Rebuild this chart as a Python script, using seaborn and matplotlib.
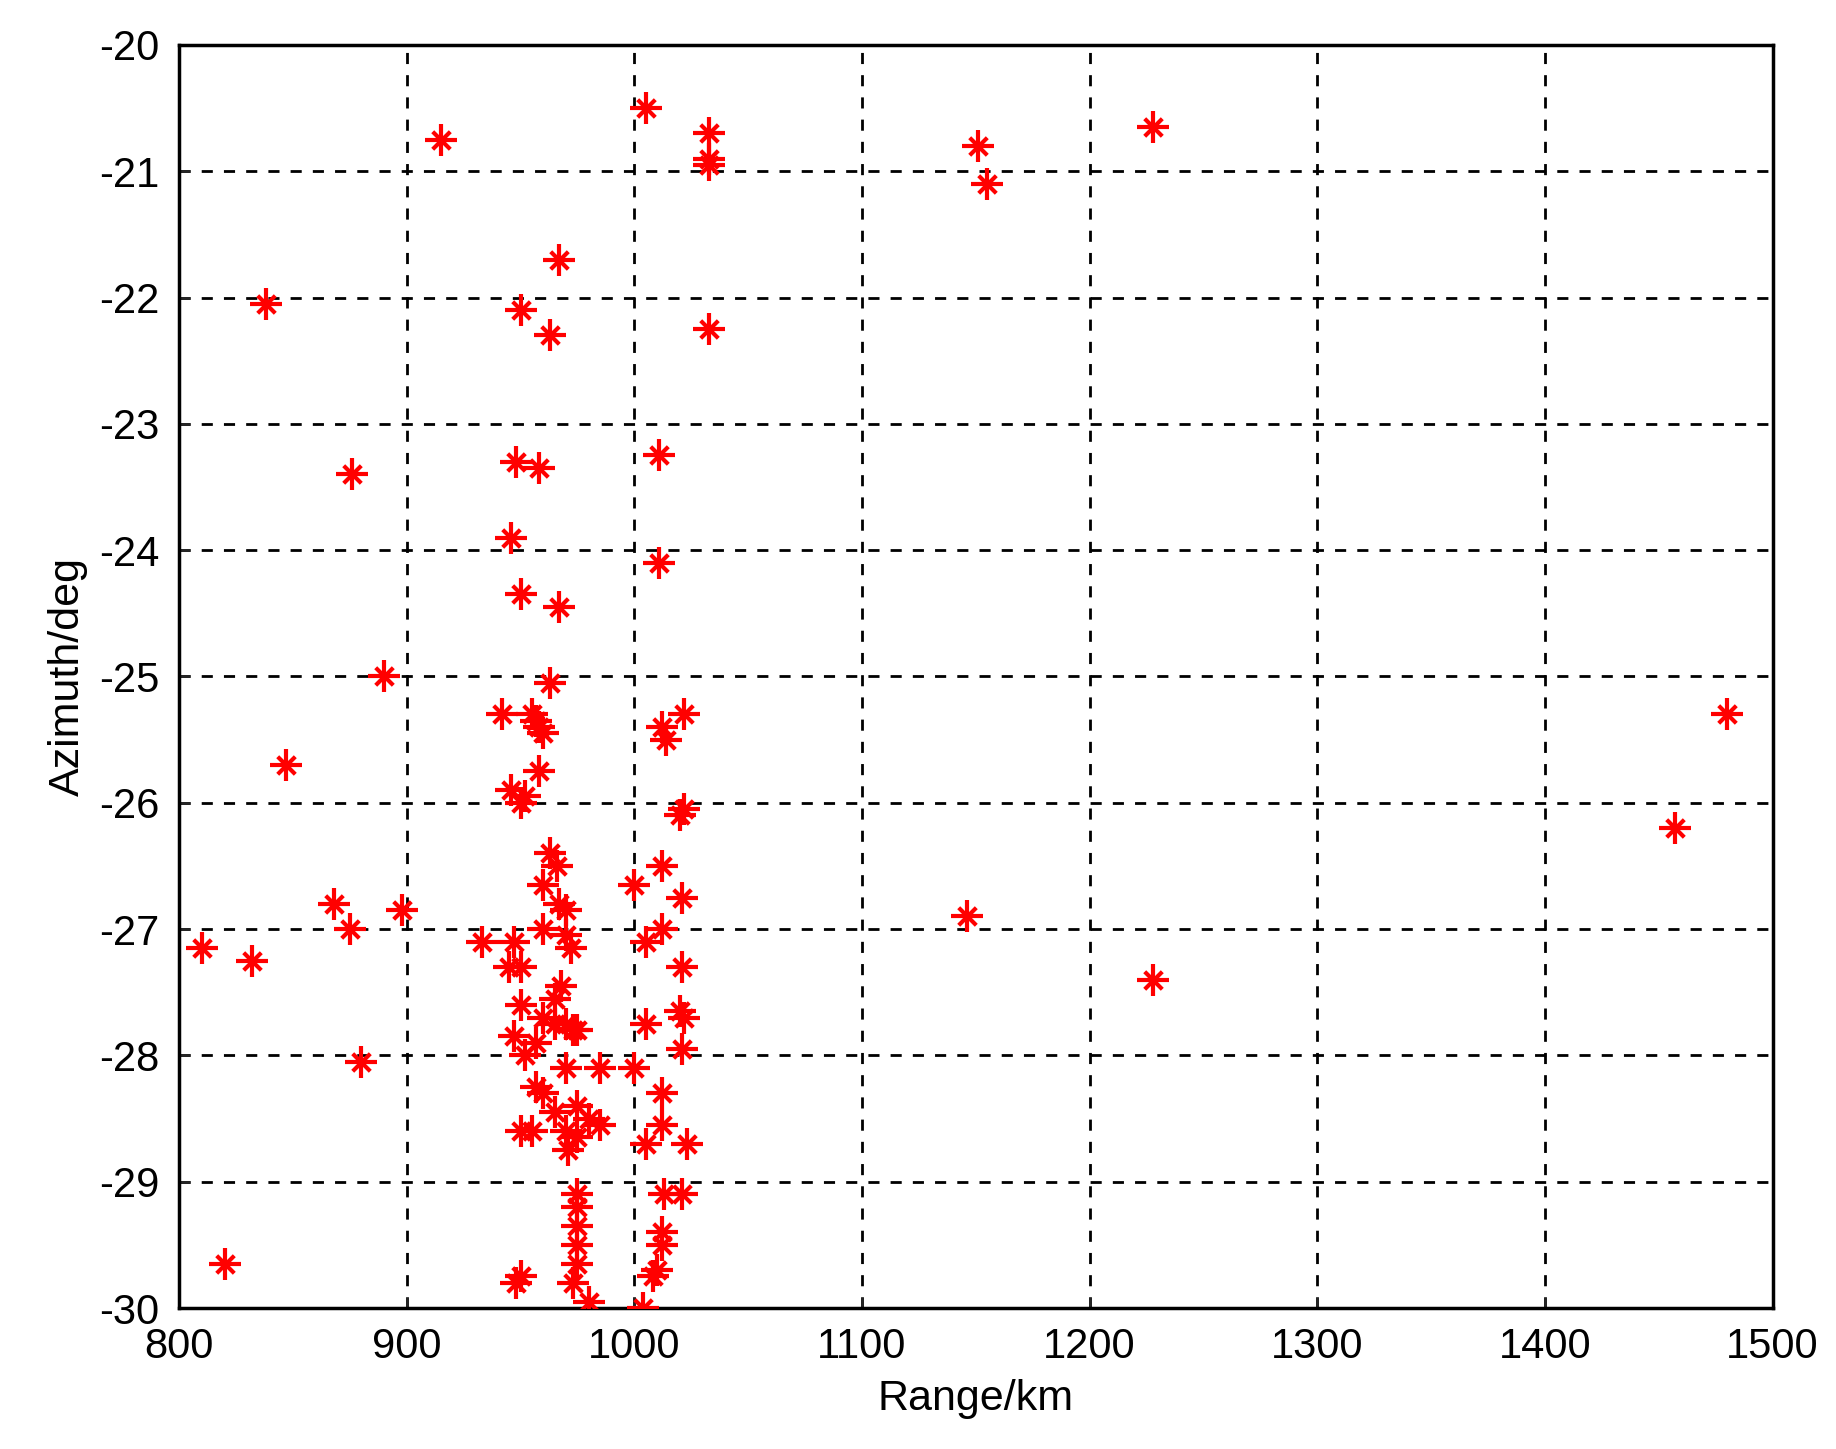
import numpy as np
import pandas as pd
import matplotlib
matplotlib.use('Agg')
import matplotlib.pyplot as plt
import seaborn as sns

# target positions
range_km = [1005, 915, 1033, 1033, 1033, 1151, 1155, 1228, 967, 838, 950, 963, 1033,
            876, 948, 958, 1011, 946, 1011, 950, 967, 890, 963, 942, 955, 958, 960, 957,
            1012, 1014, 1022, 847, 958, 946, 950, 952, 1020, 1022, 1480, 1457, 963, 966,
            960, 1012, 1000, 1021, 868, 898, 967, 970, 875, 810, 832, 933, 947, 960, 970,
            972, 1005, 1012, 1146, 1228, 945, 950, 968, 965, 950, 1021, 1020, 1022, 1005,
            960, 965, 970, 973, 975, 947, 957, 952, 970, 985, 1000, 880, 1021, 957, 960,
            1012, 965, 975, 980, 970, 975, 985, 955, 950, 971, 1012, 1005, 1023, 975, 975,
            975, 975, 975, 1013, 1021, 1012, 1012, 1010, 1008, 973, 980, 950, 948, 820, 1004]
azimuth_deg = [-20.5, -20.75, -20.7, -20.9, -20.95, -20.8, -21.1, -20.65, -21.7, -22.05,
               -22.1, -22.3, -22.25, -23.4, -23.3, -23.35, -23.25, -23.9, -24.1, -24.35,
               -24.45, -25.0, -25.05, -25.3, -25.3, -25.4, -25.45, -25.35, -25.4, -25.5,
               -25.3, -25.7, -25.75, -25.9, -26.0, -25.95, -26.1, -26.05, -25.3, -26.2,
               -26.4, -26.5, -26.65, -26.5, -26.65, -26.75, -26.8, -26.85, -26.8, -26.85,
               -27.0, -27.15, -27.25, -27.1, -27.1, -27.0, -27.05, -27.15, -27.1, -27.0,
               -26.9, -27.4, -27.3, -27.3, -27.45, -27.55, -27.6, -27.3, -27.65, -27.7,
               -27.75, -27.7, -27.75, -27.75, -27.8, -27.8, -27.85, -27.9, -28.0, -28.1,
               -28.1, -28.1, -28.05, -27.95, -28.25, -28.3, -28.3, -28.45, -28.4, -28.5,
               -28.6, -28.65, -28.55, -28.6, -28.6, -28.75, -28.55, -28.7, -28.7, -29.1,
               -29.2, -29.35, -29.5, -29.65, -29.1, -29.1, -29.4, -29.5, -29.7, -29.75,
               -29.8, -29.95, -29.75, -29.8, -29.65, -30.0]

df = pd.DataFrame({'Range': range_km, 'Azimuth': azimuth_deg})

sns.set_style('ticks')
plt.rcParams['font.family'] = ['Liberation Sans', 'DejaVu Sans']
plt.rcParams['axes.unicode_minus'] = False

fig = plt.figure(figsize=(18.36, 14.49), dpi=100)
ax = fig.add_axes([0.0975, 0.0973, 0.868, 0.8717])

# matlab-like '*' marker: plus with an x on top
sns.scatterplot(data=df, x='Range', y='Azimuth', marker='+', s=550, color='red',
                linewidth=3, ax=ax, zorder=3)
sns.scatterplot(data=df, x='Range', y='Azimuth', marker='x', s=160, color='red',
                linewidth=3, ax=ax, zorder=3)

ax.set_xlim(800, 1500)
ax.set_ylim(-30, -20)
ax.set_xticks(np.arange(800, 1501, 100))
ax.set_yticks(np.arange(-30, -19, 1))
ax.grid(True, color='black', linestyle=(0, (4, 4)), linewidth=2)
ax.tick_params(labelsize=30, labelcolor='black', direction='in', length=8, width=2, pad=14)
for s in ax.spines.values():
    s.set_linewidth(2.5)
    s.set_color('black')
ax.set_xlabel('Range/km', fontsize=31, color='black', labelpad=8)
ax.set_ylabel('Azimuth/deg', fontsize=31, color='black', labelpad=8)

fig.savefig('out.png')
